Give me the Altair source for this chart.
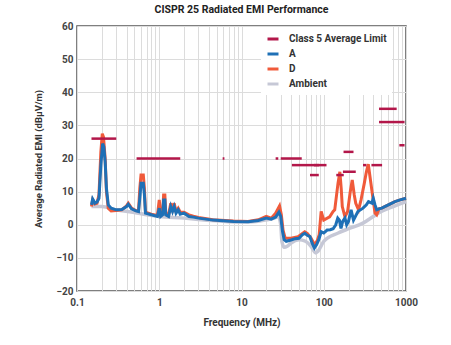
import altair as alt
import pandas as pd

# ---------------- data ----------------
freq_A = [0.15, 0.155, 0.16, 0.165, 0.175, 0.185, 0.195, 0.205, 0.212, 0.22, 0.228, 0.24, 0.26, 0.3,
          0.35, 0.4, 0.42, 0.46, 0.52, 0.56, 0.585, 0.6, 0.64, 0.66, 0.68, 0.8, 0.95, 1.0, 1.04, 1.1,
          1.13, 1.17, 1.2, 1.3, 1.38, 1.45, 1.52, 1.6, 1.7, 1.8, 2.0, 2.3, 2.6, 3.0, 4.5, 8, 12, 16,
          20, 23, 26, 28.5, 30, 31.5, 33, 35, 40, 45, 50, 55, 59, 63, 68, 72, 77, 82, 87, 93, 100,
          110, 120, 130, 140, 148, 155, 162, 170, 181, 190, 200, 215, 230, 260, 300, 330, 350, 385,
          400, 420, 440, 470, 507, 610, 735, 850, 1000]
level_A = [6.0, 7.8, 7.2, 6.5, 6.8, 8, 18, 24.5, 23.5, 19, 11, 6, 5, 4.5,
           4.6, 5.5, 6.2, 4.8, 4.2, 4, 9, 12.5, 12.5, 9, 3.5, 3, 2.5, 5, 2.5, 3,
           7.5, 7.5, 3, 2.5, 5.5, 4, 5.5, 3.5, 4.5, 3.2, 3.5, 2.5, 2.3, 2, 1.4, 1, 0.9, 1.3,
           2, 1.7, 2.3, 3.8, 2.5, -2, -4.5, -5, -4.6, -4.2, -4.1, -3, -2.6, -3.2, -3.6, -5.5, -7, -6, -4.5, -2.1, -2.5,
           -1.6, -1.5, -1.2, 0, 2, 1.4, -1.1, 1, 2, 0, 1, 4.5, 1.4, 4, 5, 6, 7, 6.5,
           8, 6, 4.5, 4.8, 5, 6, 7, 7.5, 8]

freq_D = [0.15, 0.155, 0.16, 0.165, 0.175, 0.185, 0.195, 0.203, 0.21, 0.22, 0.228, 0.24, 0.26, 0.3,
          0.35, 0.4, 0.42, 0.46, 0.52, 0.56, 0.58, 0.6, 0.64, 0.66, 0.68, 0.8, 0.95, 1.0, 1.04, 1.1,
          1.13, 1.17, 1.2, 1.3, 1.38, 1.45, 1.52, 1.6, 1.7, 1.8, 2.0, 2.3, 2.6, 3.0, 4.5, 8, 12, 16,
          20, 23, 26, 29, 30.5, 32, 34, 40, 48.7, 58.7, 63, 70, 77.6, 84, 88, 93, 100, 118, 130, 136,
          149, 157, 163, 168, 181, 195, 210, 222, 235, 245, 265, 284, 311, 330, 348, 365, 394, 420,
          440, 470, 507, 610, 735, 850, 1000]
level_D = [5.5, 7.5, 7, 6.3, 6.5, 9, 22, 27.5, 26.5, 20, 10, 5, 4.2, 4.3,
           4.5, 5.7, 6.5, 5, 4.3, 4.2, 11, 15, 15, 11, 3.8, 3.2, 2.8, 7.5, 3, 3.5,
           9, 9, 3.5, 3, 6.5, 4.5, 6.5, 4, 5, 3.8, 3.8, 3, 2.6, 2.2, 1.5, 1.1, 1, 1.5,
           2.5, 2, 3.5, 5.7, 3, -1.6, -4.1, -4.1, -3.6, -2.1, -2.6, -4, -6.1, -4.6, -3, 4, 1.4, 2.4, 4, 4.5,
           12.5, 16, 11, 5.5, 2.4, 4, 10, 13.5, 9, 6.5, 4.5, 7.5, 12.5, 16, 18.3, 14.5, 8.5, 3.5,
           3, 4.8, 5, 6, 7, 7.5, 8]

freq_amb = [0.15, 0.2, 0.3, 0.5, 0.7, 1, 2, 3, 5, 10, 15, 20, 25, 28, 30, 31, 33, 36, 40, 50, 60,
            70, 80, 85, 100, 150, 200, 300, 400, 500, 700, 1000]
level_amb = [5.5, 5.5, 4.5, 3.7, 3, 2.5, 2, 1.6, 1.2, 0.8, 1, 1.5, 2, 2.5, 0, -5, -6.8, -6.5, -5.5, -4.5, -5,
             -6.5, -8.5, -8, -5, -2.5, -1.2, 0.5, 2.5, 4, 5.5, 7]

lim_start = [0.15, 0.53, 5.9, 26, 30, 41, 76, 68, 142, 171, 174, 300, 380, 470, 470, 830]
lim_end = [0.30, 1.8, 6.2, 28, 54, 88, 108, 87, 175, 245, 230, 330, 512, 770, 960, 960]
lim_level = [26, 20, 20, 20, 20, 18, 18, 15, 15, 16, 22, 18, 18, 35, 31, 24]

series_names = ["Class 5 Average Limit", "A", "D", "Ambient"]
series_colors = ["#b3174a", "#1f70b6", "#f05a3a", "#c6c8d6"]

x_ticks = [0.1, 0.2, 0.3, 0.4, 0.5, 0.6, 0.7, 0.8, 0.9,
           1, 2, 3, 4, 5, 6, 7, 8, 9,
           10, 20, 30, 40, 50, 60, 70, 80, 90,
           100, 200, 300, 400, 500, 600, 700, 800, 900, 1000]
y_ticks = [-20, -10, 0, 10, 20, 30, 40, 50, 60]

# ---------------- tables ----------------
df_A = pd.DataFrame({"freq": freq_A, "level": level_A, "series": "A"})
df_D = pd.DataFrame({"freq": freq_D, "level": level_D, "series": "D"})
df_amb = pd.DataFrame({"freq": freq_amb, "level": level_amb, "series": "Ambient"})
df_lim = pd.DataFrame({"freq": lim_start, "f1": lim_end, "level": lim_level,
                       "series": "Class 5 Average Limit"})

FONT = "Roboto"

x_scale = alt.Scale(type="log", domain=[0.1, 1000])
x_axis = alt.Axis(values=x_ticks, format="~g",
                  labelExpr="indexof(['0.1','1','10','100','1000'], datum.label) >= 0 ? datum.label : ''",
                  title="Frequency (MHz)", grid=True, ticks=False, domain=False,
                  labelFlush=False, labelPadding=6, titlePadding=10, labelOverlap=False)
y_scale = alt.Scale(domain=[-20, 60], nice=False)
y_axis = alt.Axis(values=y_ticks, title="Average Radiated EMI (dBμV/m)", grid=True,
                  ticks=False, domain=False, labelPadding=4, titlePadding=12, labelOverlap=False)

x_enc = alt.X("freq:Q", scale=x_scale, axis=x_axis)
y_enc = alt.Y("level:Q", scale=y_scale, axis=y_axis)
color_enc = alt.Color("series:N",
                      scale=alt.Scale(domain=series_names, range=series_colors),
                      legend=alt.Legend(title=None, orient="none", legendX=184, legendY=1,
                                        symbolType="stroke", symbolStrokeWidth=3, symbolSize=121,
                                        labelFontSize=10, labelFont=FONT, labelFontWeight="bold",
                                        labelColor="#333", labelOffset=9, rowPadding=2,
                                        fillColor="white", padding=5))

amb = alt.Chart(df_amb).mark_line(strokeWidth=3.5, interpolate="monotone").encode(
    x=x_enc, y=y_enc, color=color_enc)
d = alt.Chart(df_D).mark_line(strokeWidth=3).encode(x=x_enc, y=y_enc, color=color_enc)
a = alt.Chart(df_A).mark_line(strokeWidth=3).encode(x=x_enc, y=y_enc, color=color_enc)
lim = alt.Chart(df_lim).mark_rule(strokeWidth=2.5).encode(
    x=x_enc, x2="f1:Q", y=y_enc, color=color_enc)

chart = alt.layer(amb, d, a, lim).properties(
    width=329, height=265,
    title=alt.TitleParams("CISPR 25 Radiated EMI Performance", fontSize=10.5, font=FONT,
                          fontWeight="bold", color="#222", offset=6),
    padding={"left": 77, "top": 26, "right": 45, "bottom": 54},
    autosize=alt.AutoSizeParams(type="none"),
).configure_view(stroke="#555", strokeWidth=1.5).configure_axis(
    labelFont=FONT, labelFontSize=10, labelFontWeight="bold", labelColor="#444",
    titleFont=FONT, titleFontSize=10, titleFontWeight="bold", titleColor="#333",
    gridColor="#dcdcdc", gridWidth=1
).configure_axisY(titleFontSize=9.5)

chart.save("out.html", embed_options={"renderer": "svg", "actions": False})
